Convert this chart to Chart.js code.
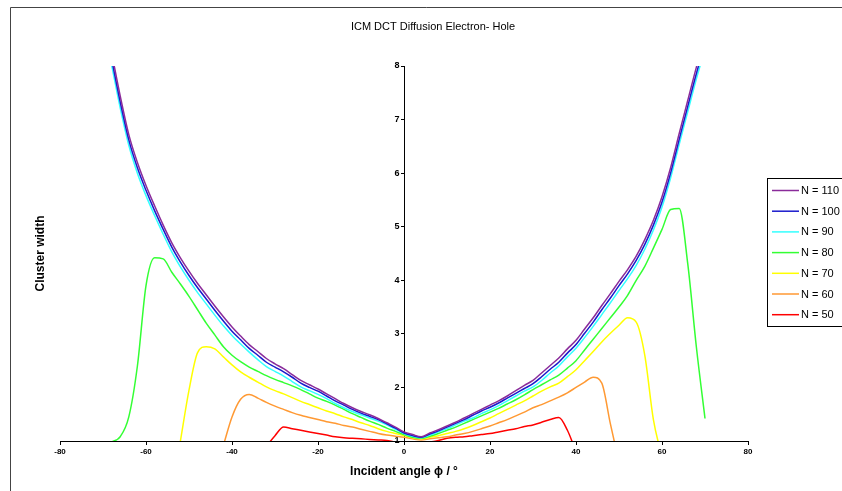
<!DOCTYPE html>
<html>
<head>
<meta charset="utf-8">
<script src="https://cdn.jsdelivr.net/npm/chart.js@4.4.1/dist/chart.umd.min.js"></script>
<style>
  html, body { margin: 0; padding: 0; background: #fff; }
  #wrap { width: 842px; height: 491px; position: relative; }
</style>
</head>
<body>
<div id="wrap"><canvas id="myChart"></canvas></div>
<script>
// incident angle (degrees), sampled every 2 degrees
var angles = [-68,-66,-64,-62,-60,-58,-56,-54,-52,-50,-48,-46,-44,-42,-40,-38,-36,-34,-32,-30,
              -28,-26,-24,-22,-20,-18,-16,-14,-12,-10,-8,-6,-4,-2,0,2,4,6,8,10,
              12,14,16,18,20,22,24,26,28,30,32,34,36,38,40,42,44,46,48,50,
              52,54,56,58,60,62,64,66,68,70];

var seriesNames = ['N = 110','N = 100','N = 90','N = 80','N = 70','N = 60','N = 50'];
var seriesColors = ['#8a2b9a','#1a1acc','#33ffff','#33ff33','#ffff00','#ff9933','#ff0000'];

var n110 = [8.25,7.44,6.72,6.20,5.77,5.39,5.03,4.70,4.42,4.17,3.94,3.73,3.52,3.32,3.13,2.96,2.80,2.67,2.54,2.44,
            2.35,2.24,2.13,2.05,1.97,1.88,1.79,1.70,1.62,1.55,1.49,1.42,1.34,1.26,1.17,1.12,1.08,1.15,1.21,1.28,
            1.35,1.43,1.51,1.59,1.67,1.75,1.84,1.94,2.04,2.13,2.27,2.41,2.55,2.72,2.88,3.09,3.30,3.53,3.75,3.98,
            4.20,4.45,4.76,5.12,5.56,6.10,6.74,7.36,7.98,8.55];
var n100 = [8.13,7.33,6.62,6.10,5.68,5.30,4.95,4.62,4.34,4.09,3.86,3.65,3.44,3.24,3.05,2.89,2.73,2.60,2.47,2.38,
            2.29,2.19,2.08,2.00,1.93,1.84,1.75,1.67,1.59,1.52,1.46,1.40,1.32,1.24,1.15,1.10,1.07,1.13,1.19,1.26,
            1.33,1.40,1.48,1.56,1.63,1.71,1.80,1.89,1.98,2.07,2.20,2.34,2.47,2.64,2.80,3.01,3.22,3.45,3.67,3.90,
            4.12,4.37,4.67,5.03,5.46,6.00,6.63,7.25,7.86,8.42];
var n90 = [8.02,7.22,6.52,6.00,5.58,5.21,4.86,4.53,4.25,4.00,3.77,3.56,3.35,3.15,2.97,2.81,2.66,2.52,2.39,2.30,
           2.21,2.11,2.01,1.94,1.87,1.79,1.70,1.62,1.55,1.49,1.43,1.37,1.30,1.22,1.14,1.09,1.06,1.11,1.17,1.23,
           1.30,1.37,1.43,1.51,1.58,1.66,1.75,1.84,1.93,2.01,2.13,2.27,2.40,2.57,2.73,2.93,3.14,3.36,3.58,3.81,
           4.03,4.28,4.58,4.94,5.37,5.91,6.54,7.15,7.76,8.32];
var n80 = [0.98,1.08,1.45,2.40,3.90,4.42,4.40,4.15,3.93,3.70,3.45,3.20,2.98,2.76,2.60,2.48,2.38,2.30,2.22,2.15,
           2.09,2.03,1.96,1.88,1.80,1.74,1.67,1.59,1.51,1.44,1.37,1.31,1.24,1.18,1.12,1.07,1.05,1.09,1.14,1.20,
           1.26,1.33,1.40,1.47,1.54,1.61,1.69,1.77,1.86,1.96,2.05,2.14,2.23,2.36,2.50,2.70,2.90,3.10,3.30,3.50,
           3.72,4.00,4.26,4.60,4.95,5.32,5.34,4.30,2.75,1.42];
var n70 = [null,null,null,null,null,null,null,null,1.00,1.95,2.65,2.76,2.72,2.57,2.42,2.29,2.19,2.10,2.01,1.94,
           1.88,1.81,1.74,1.68,1.62,1.56,1.51,1.45,1.40,1.34,1.29,1.23,1.18,1.14,1.10,1.06,1.04,1.07,1.10,1.14,
           1.18,1.23,1.29,1.36,1.43,1.51,1.59,1.67,1.75,1.84,1.93,2.01,2.08,2.20,2.33,2.50,2.67,2.85,3.01,3.16,
           3.30,3.22,2.60,1.40,0.70,null,null,null,null,null];
var n60 = [null,null,null,null,null,null,null,null,null,null,null,null,null,0.92,1.45,1.78,1.87,1.80,1.72,1.65,
           1.59,1.53,1.48,1.44,1.40,1.36,1.33,1.29,1.26,1.22,1.18,1.14,1.11,1.09,1.07,1.04,1.02,1.04,1.06,1.08,
           1.11,1.14,1.18,1.23,1.28,1.34,1.40,1.47,1.54,1.62,1.68,1.75,1.82,1.90,2.00,2.10,2.19,2.08,1.32,0.60,
           null,null,null,null,null,null,null,null,null,null];
var n50 = [null,null,null,null,null,null,null,null,null,null,null,null,null,null,null,null,null,null,0.90,1.10,
           1.26,1.23,1.20,1.17,1.14,1.11,1.08,1.06,1.05,1.04,1.03,1.02,1.01,0.98,0.97,0.96,0.96,0.98,1.01,1.05,
           1.07,1.08,1.10,1.12,1.14,1.17,1.20,1.23,1.27,1.30,1.35,1.40,1.44,1.20,0.80,null,null,null,null,null,
           null,null,null,null,null,null,null,null,null,null];

var seriesValues = [n110, n100, n90, n80, n70, n60, n50];

var FONT = "'Liberation Sans', Arial, sans-serif";

// frame, titles and the boxed legend on the right
var decorations = {
	id: 'decorations',
	afterDraw: function(chart){
		var ctx = chart.ctx;
		var area = chart.chartArea;
		ctx.save();

		// outer frame (only top/left visible)
		ctx.strokeStyle = '#444';
		ctx.lineWidth = 1;
		ctx.beginPath();
		ctx.moveTo(10.5, 500);
		ctx.lineTo(10.5, 7.5);
		ctx.lineTo(850, 7.5);
		ctx.stroke();

		ctx.fillStyle = '#000';
		ctx.textAlign = 'center';
		ctx.textBaseline = 'middle';
		ctx.font = '11px ' + FONT;
		ctx.fillText('ICM DCT Diffusion Electron- Hole', 433, 27);

		ctx.font = 'bold 12px ' + FONT;
		ctx.fillText('Incident angle \u03d5 / \u00b0', (area.left + area.right) / 2, 472);

		ctx.save();
		ctx.translate(41, (area.top + area.bottom) / 2);
		ctx.rotate(-Math.PI / 2);
		ctx.fillText('Cluster width', 0, 0);
		ctx.restore();

		// legend
		ctx.strokeStyle = '#000';
		ctx.strokeRect(767.5, 178.5, 100, 148);
		ctx.font = '11px ' + FONT;
		ctx.textAlign = 'left';
		chart.data.datasets.forEach(function(ds, i){
			var y = 190.5 + i * 20.7;
			ctx.strokeStyle = ds.borderColor;
			ctx.lineWidth = 1.5;
			ctx.beginPath();
			ctx.moveTo(772, y);
			ctx.lineTo(799, y);
			ctx.stroke();
			ctx.fillStyle = '#000';
			ctx.fillText(ds.label, 801, y + 0.5);
		});
		ctx.restore();
	}
};

var datasets = seriesNames.map(function(name, i){
	return {
		label: name,
		data: angles.map(function(a, j){ return { x: a, y: seriesValues[i][j] }; }),
		borderColor: seriesColors[i],
		backgroundColor: seriesColors[i],
		borderWidth: 1.5,
		pointRadius: 0,
		cubicInterpolationMode: 'monotone',
		spanGaps: false,
		fill: false
	};
});

var ctx = document.getElementById('myChart');
var myLineChart = new Chart(ctx, {
	type: 'line',
	data: { datasets: datasets },
	options: {
		responsive: true,
		maintainAspectRatio: false,
		animation: false,
		layout: { padding: { left: 60, right: 94, top: 66, bottom: 0 } },
		plugins: {
			legend: { display: false },
			title: { display: false },
			tooltip: { enabled: false }
		},
		scales: {
			x: {
				type: 'linear',
				position: 'bottom',
				min: -80,
				max: 80,
				afterFit: function(scale){ scale.height = 50; },
				ticks: { stepSize: 20, color: '#000', padding: 2, font: { family: FONT, size: 8, weight: 'bold' } },
				grid: { drawOnChartArea: false, drawTicks: true, tickLength: 4, color: '#000' },
				border: { display: true, color: '#000', width: 1 }
			},
			y: {
				type: 'linear',
				position: { x: 0 },
				min: 1,
				max: 8,
				afterFit: function(scale){ scale.width = 0; },
				ticks: {
					stepSize: 1, color: '#000', padding: 3,
					font: { family: FONT, size: 9, weight: 'bold' },
					// labels of a centred axis sit on the line, push them left
					callback: function(value){ return value + '\u2002'; }
				},
				grid: { drawOnChartArea: false, drawTicks: true, tickLength: 3, color: '#000' },
				border: { display: true, color: '#000', width: 1 }
			}
		}
	},
	plugins: [decorations]
});
</script>
</body>
</html>
